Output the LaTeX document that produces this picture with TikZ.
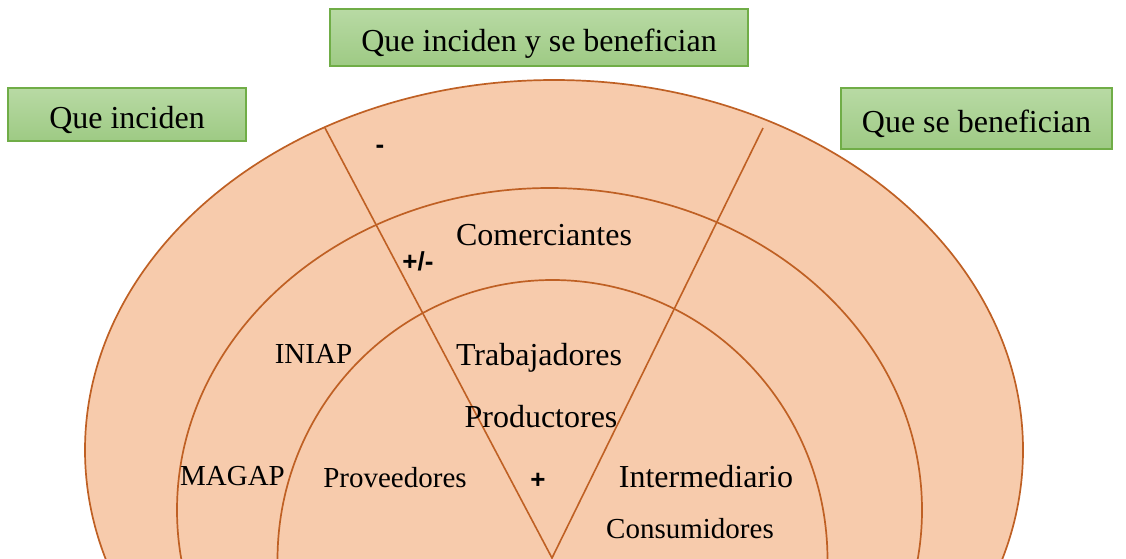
\documentclass[tikz,border=0pt]{standalone}
\usepackage{fontspec}
\setmainfont{Liberation Serif}
\newfontfamily\symfont{Liberation Sans}
\definecolor{peach}{HTML}{F7CBAC}
\definecolor{ringline}{HTML}{BF6024}
\definecolor{boxtop}{HTML}{B8DAA4}
\definecolor{boxbot}{HTML}{9ECA84}
\definecolor{boxline}{HTML}{70AD47}
\begin{document}
\begin{tikzpicture}[x=1pt,y=-1pt,
  ring/.style={fill=peach,draw=ringline,line width=1.7pt},
  divider/.style={draw=ringline,line width=1.6pt},
  greenbox/.style={draw=boxline,line width=1.2pt,top color=boxtop,bottom color=boxbot,
    inner sep=0pt,text height=27pt,text depth=0pt,font=\fontsize{32}{38}\selectfont},
  bigtext/.style={font=\fontsize{32}{38}\selectfont,anchor=base,inner sep=0pt},
  smalltext/.style={font=\fontsize{29}{34}\selectfont,anchor=base,inner sep=0pt},
  signtext/.style={font=\symfont\bfseries\fontsize{26}{30}\selectfont,inner sep=0pt}]
\useasboundingbox (0,0) rectangle (1126,558);
\begin{scope}
  \clip (0,0) rectangle (1126,558);
  \draw[ring] (554,450) ellipse [x radius=469pt, y radius=370pt];
  \draw[ring] (549.5,510) ellipse [x radius=372.5pt, y radius=322pt];
  \draw[ring] (552.5,560) ellipse [x radius=275pt, y radius=280pt];
  \coordinate (topL) at (325,128);
  \coordinate (topR) at (763,128);
  \coordinate (apex) at (552,558);
  \draw[divider] (topL) -- (apex) -- (topR);
\end{scope}

\node[greenbox, minimum width=238pt, minimum height=53pt] (bIn) at (127,114.5) {Que inciden};
\node[greenbox, minimum width=418pt, minimum height=57pt] (bBoth) at (539,37.5) {Que inciden y se benefician};
\node[greenbox, minimum width=271pt, minimum height=61pt] (bBen) at (976.5,118.5) {Que se benefician};

\node[signtext] (sMinus) at (380,149) {-};
\node[signtext] (sPM) at (418,261) {+/-};
\node[signtext] (sPlus) at (538,481) {+};

\node[bigtext] (tCom) at (544,245) {Comerciantes};
\node[smalltext] (tIniap) at (313.5,363) {INIAP};
\node[bigtext] (tTrab) at (539,365) {Trabajadores};
\node[bigtext] (tProd) at (541,427) {Productores};
\node[smalltext] (tMagap) at (232.5,485) {MAGAP};
\node[smalltext] (tProv) at (395,487) {Proveedores};
\node[bigtext] (tInt) at (706,487) {Intermediario};
\node[smalltext] (tCons) at (690,538) {Consumidores};
\end{tikzpicture}
\end{document}
